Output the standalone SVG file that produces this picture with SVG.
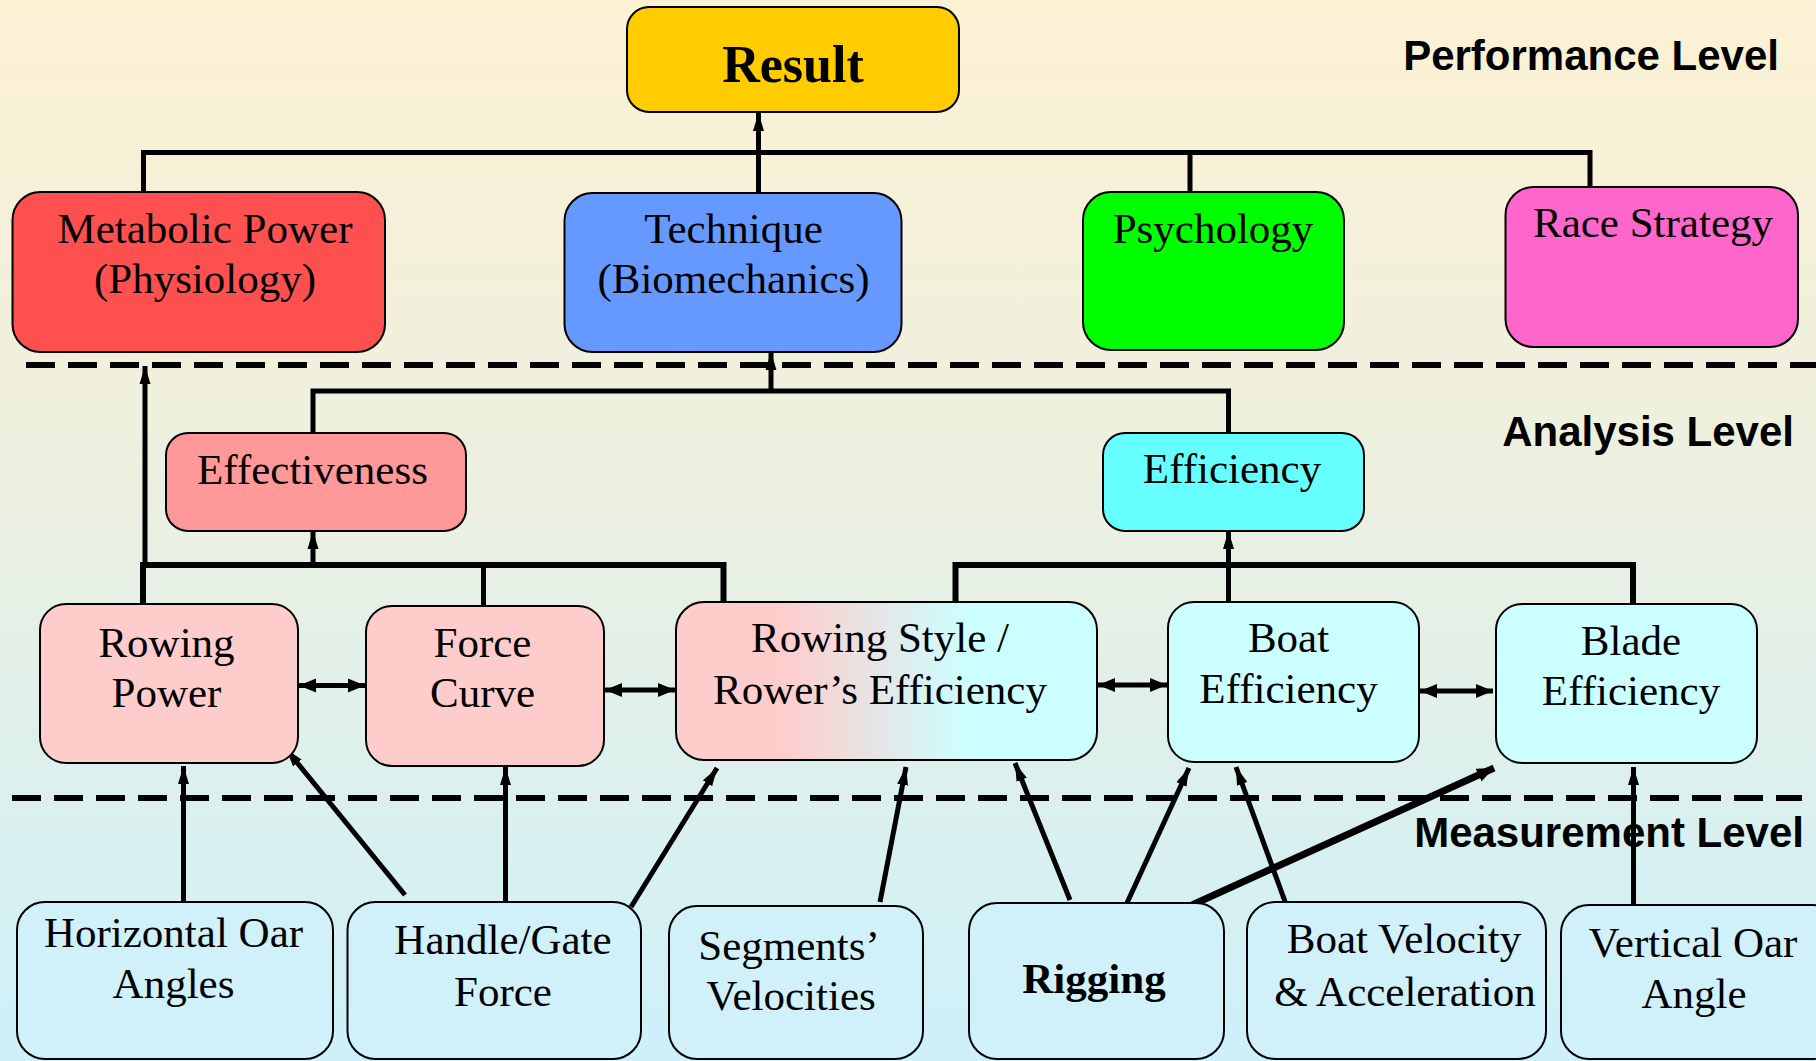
<svg xmlns="http://www.w3.org/2000/svg" width="1816" height="1061" viewBox="0 0 1816 1061">
<defs>
<linearGradient id="bg" x1="0" y1="0" x2="0" y2="1">
<stop offset="0" stop-color="#FCF1D3"/>
<stop offset="0.45" stop-color="#EDF0E0"/>
<stop offset="1" stop-color="#CDF0FA"/>
</linearGradient>
<linearGradient id="style" x1="0" y1="0" x2="1" y2="0">
<stop offset="0.25" stop-color="#FFCCCC"/>
<stop offset="0.7" stop-color="#CCFFFF"/>
</linearGradient>
<marker id="tip" markerUnits="userSpaceOnUse" markerWidth="20" markerHeight="12" refX="18" refY="6" orient="auto-start-reverse">
<path d="M0,0.5 L18,6 L0,11.5 z" fill="#000"/>
</marker>
<marker id="dtip" markerUnits="userSpaceOnUse" markerWidth="20" markerHeight="16" refX="17" refY="8" orient="auto-start-reverse">
<path d="M0,1 L17,8 L0,15 z" fill="#000"/>
</marker>
</defs>
<style>
.box{stroke:#000;stroke-width:2}
.t{font-family:"Liberation Serif","Times New Roman",serif;font-size:43px;fill:#000;text-anchor:middle}
.lvl{font-family:"Liberation Sans",Arial,sans-serif;font-size:42px;font-weight:bold;fill:#000;text-anchor:end}
.c{fill:none;stroke:#000;stroke-width:5}
.dash{fill:none;stroke:#000;stroke-width:6;stroke-dasharray:29 13}
</style>
<rect x="0" y="0" width="1816" height="1061" fill="url(#bg)"/>

<g id="levels">
<line class="dash" x1="26" y1="365" x2="1816" y2="365"/>
<line class="dash" x1="12" y1="798" x2="1802" y2="798"/>
<text class="lvl" x="1779" y="70">Performance Level</text>
<text class="lvl" x="1794" y="446">Analysis Level</text>
</g>

<g id="connectors">
<!-- top tree -->
<polyline class="c" points="143.5,192 143.5,152.5 1590,152.5 1590,187"/>
<line class="c" x1="1190" y1="152.5" x2="1190" y2="192"/>
<line class="c" x1="758.5" y1="193" x2="758.5" y2="113" marker-end="url(#tip)"/>
<!-- technique subtree -->
<polyline class="c" points="313,433 313,391 1228.5,391 1228.5,433"/>
<line class="c" x1="771" y1="391" x2="771" y2="352" marker-end="url(#tip)"/>
<!-- effectiveness subtree -->
<polyline class="c" style="stroke-width:6" points="143,603 143,565 723.5,565 723.5,603"/>
<line class="c" x1="483.5" y1="565" x2="483.5" y2="606"/>
<line class="c" x1="313" y1="565" x2="313" y2="531" marker-end="url(#tip)"/>
<line class="c" x1="145" y1="566" x2="145" y2="366" marker-end="url(#tip)"/>
<!-- efficiency subtree -->
<polyline class="c" style="stroke-width:6" points="955.5,602 955.5,565 1633,565 1633,604"/>
<line class="c" x1="1228.5" y1="603" x2="1228.5" y2="531" marker-end="url(#tip)"/>
<!-- double arrows -->
<line class="c" x1="299" y1="685.5" x2="365" y2="685.5" marker-start="url(#dtip)" marker-end="url(#dtip)"/>
<line class="c" x1="605" y1="690" x2="675" y2="690" marker-start="url(#dtip)" marker-end="url(#dtip)"/>
<line class="c" x1="1098" y1="685" x2="1167" y2="685" marker-start="url(#dtip)" marker-end="url(#dtip)"/>
<line class="c" x1="1420" y1="691" x2="1493" y2="691" marker-start="url(#dtip)" marker-end="url(#dtip)"/>
<!-- measurement arrows -->
<line class="c" x1="183.5" y1="902" x2="183.5" y2="766" marker-end="url(#tip)"/>
<line class="c" x1="405" y1="895" x2="286" y2="749" marker-end="url(#tip)"/>
<line class="c" x1="505.5" y1="905" x2="505.5" y2="767" marker-end="url(#tip)"/>
<line class="c" x1="631" y1="907" x2="717" y2="768" marker-end="url(#tip)"/>
<line class="c" x1="880" y1="902" x2="906" y2="767" marker-end="url(#tip)"/>
<line class="c" x1="1070" y1="900" x2="1015" y2="763" marker-end="url(#tip)"/>
<line class="c" x1="1127" y1="903" x2="1189" y2="768" marker-end="url(#tip)"/>
<line class="c" x1="1287" y1="907" x2="1236" y2="767" marker-end="url(#tip)"/>
<line class="c" style="stroke-width:7" x1="1192" y1="905" x2="1494" y2="768" marker-end="url(#dtip)"/>
<line class="c" x1="1633.5" y1="905" x2="1633.5" y2="767" marker-end="url(#tip)"/>
</g>

<g id="result">
<rect class="box" x="627" y="7" width="332" height="105" rx="22" fill="#FFCC00"/>
<text class="t" x="793" y="82" style="font-size:52px;font-weight:bold">Result</text>
</g>
<g id="metabolic">
<rect class="box" x="12.5" y="192" width="372.5" height="160" rx="28" fill="#FF5050"/>
<text class="t" x="205" y="243">Metabolic Power</text>
<text class="t" x="205" y="293">(Physiology)</text>
</g>
<g id="technique">
<rect class="box" x="564.5" y="193" width="337" height="159" rx="28" fill="#6699FF"/>
<text class="t" x="733.5" y="243">Technique</text>
<text class="t" x="733.5" y="293">(Biomechanics)</text>
</g>
<g id="psychology">
<rect class="box" x="1083" y="192" width="261" height="158" rx="28" fill="#00FF00"/>
<text class="t" x="1213" y="243">Psychology</text>
</g>
<g id="race">
<rect class="box" x="1505.5" y="187" width="292.5" height="160" rx="28" fill="#FF66CC"/>
<text class="t" x="1653" y="237">Race Strategy</text>
</g>

<g id="effectiveness">
<rect class="box" x="166" y="433" width="300" height="98" rx="22" fill="#FF9999"/>
<text class="t" x="312.5" y="484">Effectiveness</text>
</g>
<g id="efficiency">
<rect class="box" x="1103" y="433" width="261" height="98" rx="22" fill="#66FFFF"/>
<text class="t" x="1232" y="483">Efficiency</text>
</g>

<g id="rowingpower">
<rect class="box" x="40" y="604" width="258" height="159" rx="26" fill="#FFCCCC"/>
<text class="t" x="166.5" y="657">Rowing</text>
<text class="t" x="166.5" y="707">Power</text>
</g>
<g id="forcecurve">
<rect class="box" x="366" y="606" width="238" height="160" rx="26" fill="#FFCCCC"/>
<text class="t" x="482.5" y="657">Force</text>
<text class="t" x="482.5" y="707">Curve</text>
</g>
<g id="rowingstyle">
<rect class="box" x="676" y="602" width="421" height="158" rx="28" fill="url(#style)"/>
<text class="t" x="880" y="652">Rowing Style /</text>
<text class="t" x="880" y="704">Rower’s Efficiency</text>
</g>
<g id="boateff">
<rect class="box" x="1168" y="602" width="251" height="160" rx="26" fill="#CCFFFF"/>
<text class="t" x="1288.5" y="652">Boat</text>
<text class="t" x="1288.5" y="703">Efficiency</text>
</g>
<g id="bladeeff">
<rect class="box" x="1496" y="604" width="261" height="159" rx="26" fill="#CCFFFF"/>
<text class="t" x="1631" y="655">Blade</text>
<text class="t" x="1631" y="705">Efficiency</text>
</g>

<g id="horizontal">
<rect class="box" x="17" y="902" width="316" height="157" rx="28" fill="#D0F1F9"/>
<text class="t" x="173.5" y="947">Horizontal Oar</text>
<text class="t" x="173.5" y="998">Angles</text>
</g>
<g id="handle">
<rect class="box" x="347.5" y="902" width="293.5" height="157" rx="28" fill="#D0F1F9"/>
<text class="t" x="503" y="954">Handle/Gate</text>
<text class="t" x="503" y="1006">Force</text>
</g>
<g id="segments">
<rect class="box" x="669" y="906" width="254" height="153" rx="28" fill="#D0F1F9"/>
<text class="t" x="789" y="960">Segments’</text>
<text class="t" x="791" y="1010">Velocities</text>
</g>
<g id="rigging">
<rect class="box" x="969" y="903" width="255" height="156" rx="28" fill="#D0F1F9"/>
<text class="t" x="1094" y="993" style="font-weight:bold">Rigging</text>
</g>
<g id="boatvel">
<rect class="box" x="1247" y="902" width="299" height="157" rx="28" fill="#D0F1F9"/>
<text class="t" x="1404" y="953">Boat Velocity</text>
<text class="t" x="1405" y="1006">&amp; Acceleration</text>
</g>
<g id="vertical">
<rect class="box" x="1561" y="905" width="280" height="154" rx="28" fill="#D0F1F9"/>
<text class="t" x="1693" y="957">Vertical Oar</text>
<text class="t" x="1694" y="1008">Angle</text>
</g>
<text class="lvl" x="1804" y="847">Measurement Level</text>
</svg>
